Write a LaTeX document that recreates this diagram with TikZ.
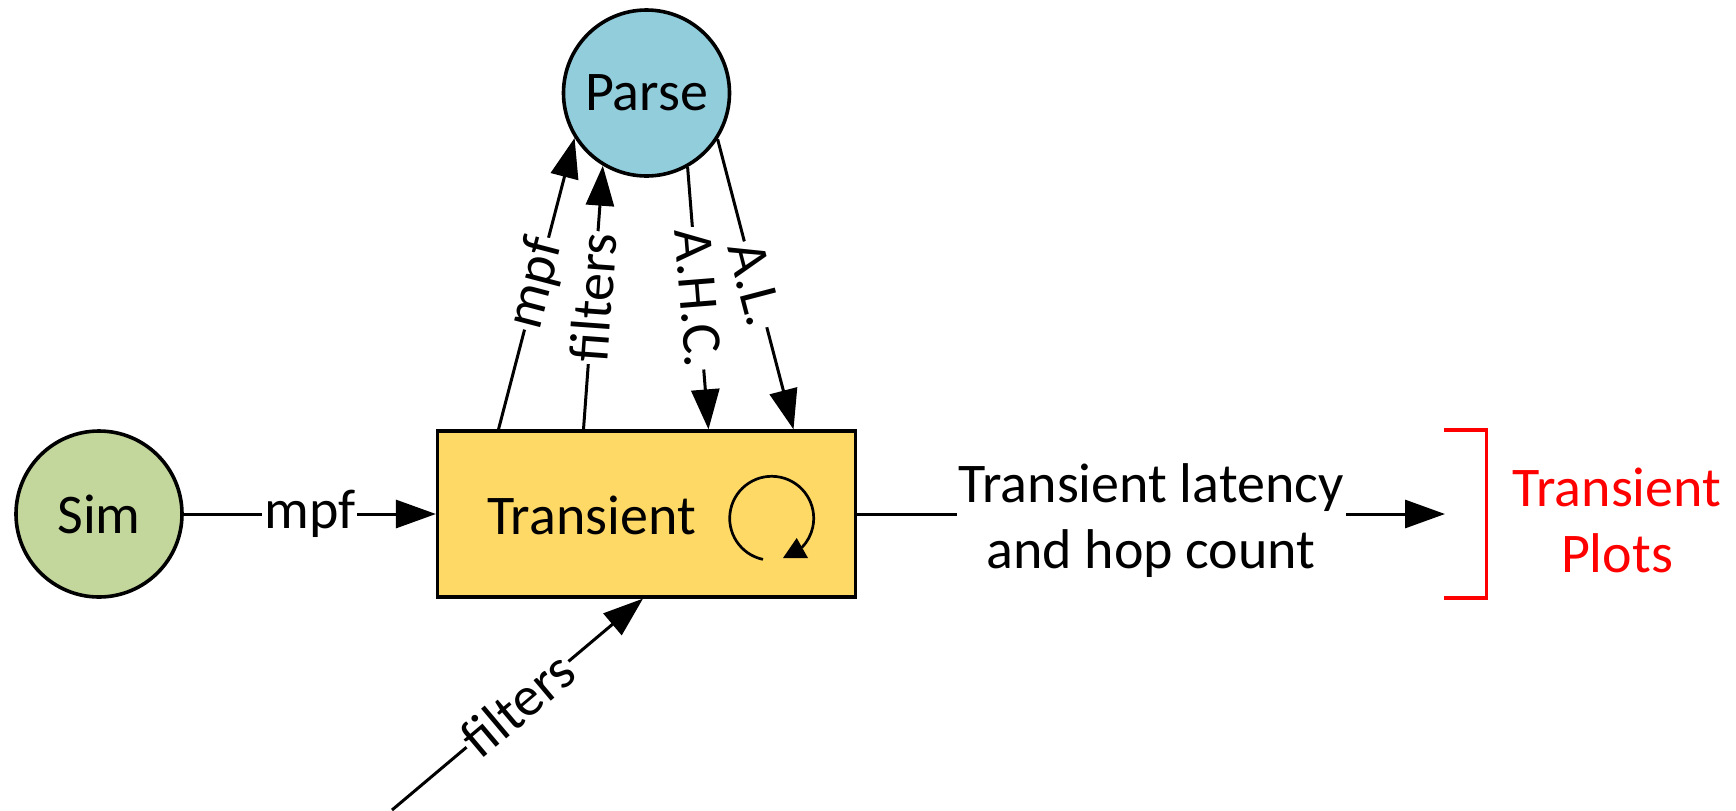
\documentclass[tikz,border=0pt]{standalone}
\usepackage{fontspec}
\setmainfont{Carlito}
\usetikzlibrary{arrows.meta}
\definecolor{parsefill}{HTML}{92CDDC}
\definecolor{simfill}{HTML}{C3D69B}
\definecolor{boxfill}{HTML}{FFD966}
\begin{document}
\begin{tikzpicture}[x=0.5pt,y=-0.5pt,
  every node/.style={font=\fontsize{28}{33}\selectfont},
  proc/.style={circle, draw, line width=1.8pt, minimum size=83pt, inner sep=0pt},
  stage/.style={draw, line width=1.6pt, fill=boxfill, minimum width=209pt, minimum height=83pt},
  flow/.style={line width=1.5pt, -{Triangle[length=20pt,width=14pt]}},
  lbl/.style={fill=white, inner sep=1pt, sloped}]
\useasboundingbox (0,0) rectangle (1736,810);

% processes
\node[proc, fill=parsefill] (parse) at (646.5,93) {Parse};
\node[proc, fill=simfill] (sim) at (99,514) {Sim};
\node[stage] (trans) at (646.5,514) {};
\node (translbl) at (591.5,515) {Transient};

% iteration symbol inside the transient stage
\coordinate (loopc) at (771.7,518.3);
\draw[line width=1.35pt]
  ([shift={(258:21pt)}]loopc) arc[start angle=258, end angle=-44, radius=21pt];
\fill ([shift={(11.3,39.7)}]loopc) -- ([shift={(36.3,39.7)}]loopc)
  -- ([shift={(25,19.7)}]loopc) -- cycle;

% exchanges with the parser
\draw[flow] ([xshift=-74pt]trans.north) -- node[lbl]{mpf} (parse.212);
\draw[flow] ([xshift=-31.5pt]trans.north) -- node[lbl]{filters} (parse.239);
\draw[flow] (parse.299) -- node[lbl]{A.H.C.} ([xshift=31pt]trans.north);
\draw[flow] (parse.327) -- node[lbl]{A.L.} ([xshift=73.5pt]trans.north);

% inputs
\draw[flow] (sim) -- node[lbl]{mpf} (trans);
\coordinate (filtin) at (392,810);
\draw[flow] (filtin) -- node[lbl]{filters} ([xshift=-1.75pt]trans.south);

% output
\coordinate (plotsin) at (1445,514);
\draw[flow] (trans) -- node[fill=white, inner sep=1pt, align=center, yshift=-3.3pt]{Transient latency\\and hop count} (plotsin);
\draw[red, line width=1.6pt] (1444,430) -| (1486.5,598) -- (1444,598);
\node[red, align=center] (plots) at (1617,520.5) {Transient\\Plots};
\end{tikzpicture}
\end{document}
